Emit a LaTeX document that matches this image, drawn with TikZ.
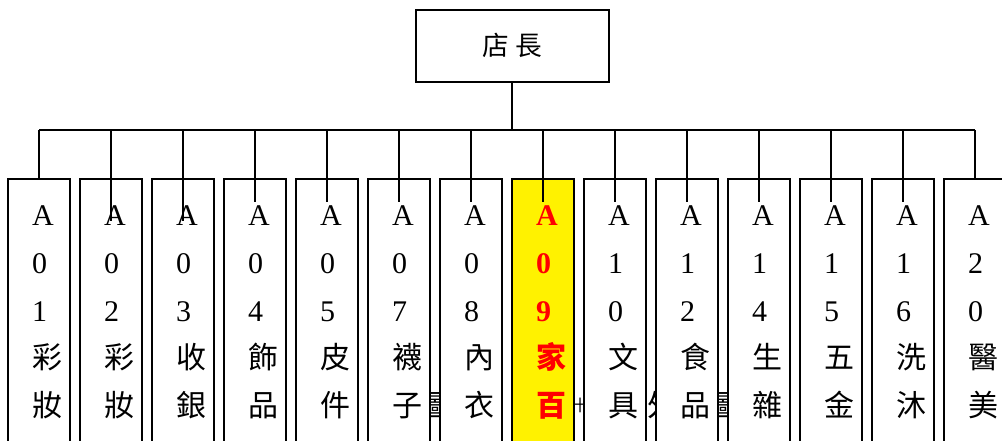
\documentclass[tikz,border=0pt]{standalone}
\usepackage{fontspec}
\setmainfont{Liberation Serif}
\newfontfamily\cjk{Noto Sans CJK TC}
\begin{document}
\begin{tikzpicture}[x=0.75pt,y=-0.75pt,line width=1.5pt,
  cell/.style={draw,fill=white,rectangle,anchor=north,minimum width=46.5pt,minimum height=210pt,inner sep=0pt},
  hotcell/.style={cell,fill=yellow},
  lat/.style={anchor=base west,inner sep=0pt,font=\fontsize{22.5}{24}\selectfont},
  han/.style={lat,font=\fontsize{22.5}{24}\selectfont\cjk},
  hot/.style={lat,text=red,font=\fontsize{22.5}{24}\selectfont\bfseries},
  hothan/.style={lat,text=red,font=\fontsize{22.5}{24}\selectfont\cjk\bfseries},
  ghost/.style={anchor=base,inner sep=0pt,font=\fontsize{22.5}{24}\selectfont\cjk}]
\useasboundingbox (0,0) rectangle (1002,441);
\clip (0,0) rectangle (1002,441);
% partly hidden glyphs behind the cells
\node[ghost] (g1) at (435,416) {圖};
\node[ghost,font=\fontsize{12}{12}\selectfont\cjk] (g2) at (580,411) {十};
\node[ghost] (g3) at (662,416) {外};
\node[ghost] (g4) at (723,416) {圖};
% top box
\node[draw,rectangle,minimum width=145pt,minimum height=53.75pt,inner sep=0pt,
  font=\fontsize{20}{22}\selectfont\cjk] (top) at (512.3,45.8) {店\kern5pt長};
% cells
\foreach \i in {1,...,14}{
  \pgfmathsetmacro\L{8+72*(\i-1)}
  \coordinate (j\i) at (\L+31,130);
  \ifnum\i=8
    \node[hotcell] (b\i) at (\L+31,178) {};
  \else
    \node[cell] (b\i) at (\L+31,178) {};
  \fi
}
\coordinate (e2) at (111,221);
\coordinate (e3) at (183,221);
\foreach \i in {4,...,13}{
  \pgfmathsetmacro\L{8+72*(\i-1)}
  \coordinate (e\i) at (\L+31,202);
}
% connectors
\draw (top.south) -- (top.south |- j1);
\draw (j1) -- (j14);
\draw (j1) -- (b1.north);
\draw (j14) -- (b14.north);
\foreach \i in {2,...,13}{\draw (j\i) -- (e\i);}
% texts
\foreach \i/\b/\c/\d/\e in {1/0/1/彩/妝,2/0/2/彩/妝,3/0/3/收/銀,4/0/4/飾/品,5/0/5/皮/件,6/0/7/襪/子,7/0/8/內/衣,9/1/0/文/具,10/1/2/食/品,11/1/4/生/雜,12/1/5/五/金,13/1/6/洗/沐,14/2/0/醫/美}{
  \pgfmathsetmacro\X{8+72*(\i-1)+23}
  \node[lat] (t\i a) at (\X,226) {A};
  \node[lat] (t\i b) at (\X,273.6) {\b};
  \node[lat] (t\i c) at (\X,321.2) {\c};
  \node[han] (t\i d) at (\X,368.8) {\d};
  \node[han] (t\i e) at (\X,416.4) {\e};
}
\node[hot] (t8a) at (535,226) {A};
\node[hot] (t8b) at (535,273.6) {0};
\node[hot] (t8c) at (535,321.2) {9};
\node[hothan] (t8d) at (535,368.8) {家};
\node[hothan] (t8e) at (535,416.4) {百};
\end{tikzpicture}
\end{document}
